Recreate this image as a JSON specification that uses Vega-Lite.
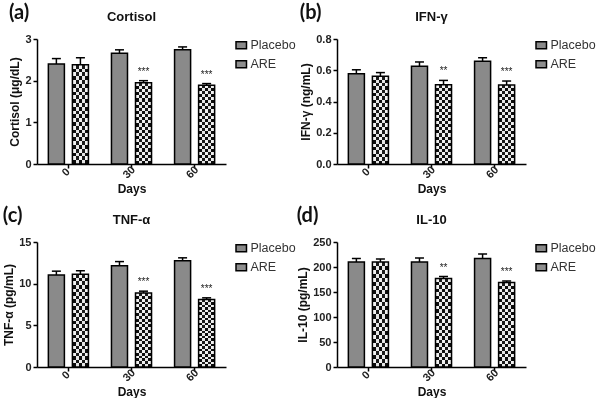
{
  "$schema": "https://vega.github.io/schema/vega-lite/v6.json",
  "padding": {"left": 2, "top": 2, "right": 0, "bottom": 0},
  "config": {
    "font": "Liberation Sans",
    "view": {"stroke": null},
    "axis": {"domainColor": "black", "domainWidth": 1.5, "tickColor": "black", "tickWidth": 1.5, "tickSize": 4, "labelFont": "Liberation Sans", "labelFontWeight": "bold", "labelFontSize": 11, "labelColor": "#222", "labelOverlap": false, "titleFont": "Liberation Sans", "titleFontWeight": "bold", "titleFontSize": 12, "titleColor": "#111", "grid": false},
    "axisX": {"labelPadding": 4, "titlePadding": 4, "labelAlign": "center", "labelBaseline": "middle", "labelOffset": -2},
    "axisY": {"titlePadding": 3},
    "legend": {"labelFont": "Liberation Sans", "labelFontSize": 12.5, "labelColor": "#333", "labelOffset": 3, "symbolStrokeColor": "black", "symbolStrokeWidth": 1.5, "symbolType": "M-1,-0.65H1V0.65H-1Z", "symbolSize": 110, "symbolOpacity": 1, "orient": "right", "offset": 9, "title": null, "rowPadding": 5},
    "title": {"font": "Liberation Sans", "fontWeight": "bold", "fontSize": 13, "color": "#111"}
  },
  "datasets": {
    "d": [
      {"panel": "a", "day": "0", "group": "Placebo", "value": 2.40, "upper": 2.53, "star": ""},
      {"panel": "a", "day": "0", "group": "ARE", "value": 2.38, "upper": 2.55, "star": ""},
      {"panel": "a", "day": "30", "group": "Placebo", "value": 2.66, "upper": 2.74, "star": ""},
      {"panel": "a", "day": "30", "group": "ARE", "value": 1.95, "upper": 2.00, "star": "***"},
      {"panel": "a", "day": "60", "group": "Placebo", "value": 2.74, "upper": 2.81, "star": ""},
      {"panel": "a", "day": "60", "group": "ARE", "value": 1.89, "upper": 1.93, "star": "***"},
      {"panel": "b", "day": "0", "group": "Placebo", "value": 0.578, "upper": 0.603, "star": ""},
      {"panel": "b", "day": "0", "group": "ARE", "value": 0.562, "upper": 0.585, "star": ""},
      {"panel": "b", "day": "30", "group": "Placebo", "value": 0.625, "upper": 0.653, "star": ""},
      {"panel": "b", "day": "30", "group": "ARE", "value": 0.508, "upper": 0.535, "star": "**"},
      {"panel": "b", "day": "60", "group": "Placebo", "value": 0.658, "upper": 0.680, "star": ""},
      {"panel": "b", "day": "60", "group": "ARE", "value": 0.505, "upper": 0.531, "star": "***"},
      {"panel": "c", "day": "0", "group": "Placebo", "value": 11.05, "upper": 11.5, "star": ""},
      {"panel": "c", "day": "0", "group": "ARE", "value": 11.13, "upper": 11.55, "star": ""},
      {"panel": "c", "day": "30", "group": "Placebo", "value": 12.14, "upper": 12.65, "star": ""},
      {"panel": "c", "day": "30", "group": "ARE", "value": 8.87, "upper": 9.1, "star": "***"},
      {"panel": "c", "day": "60", "group": "Placebo", "value": 12.75, "upper": 13.1, "star": ""},
      {"panel": "c", "day": "60", "group": "ARE", "value": 8.1, "upper": 8.3, "star": "***"},
      {"panel": "d", "day": "0", "group": "Placebo", "value": 210, "upper": 217, "star": ""},
      {"panel": "d", "day": "0", "group": "ARE", "value": 210, "upper": 216, "star": ""},
      {"panel": "d", "day": "30", "group": "Placebo", "value": 210, "upper": 218, "star": ""},
      {"panel": "d", "day": "30", "group": "ARE", "value": 177, "upper": 181, "star": "**"},
      {"panel": "d", "day": "60", "group": "Placebo", "value": 217, "upper": 226, "star": ""},
      {"panel": "d", "day": "60", "group": "ARE", "value": 169, "upper": 172, "star": "***"}
    ]
  },
  "columns": 2,
  "spacing": {"column": 0, "row": 11},
  "resolve": {"legend": {"fill": "independent"}},
  "concat": [
    {
      "title": {"text": "(a)", "anchor": "start", "frame": "bounds", "font": "Lato", "fontSize": 20, "fontWeight": "bold", "color": "#111", "offset": -12},
      "vconcat": [{
        "width": 189, "height": 125,
        "title": {"text": "Cortisol", "offset": 9},
        "data": {"name": "d"},
        "transform": [{"filter": "datum.panel === 'a'"}],
        "encoding": {
          "x": {"field": "day", "type": "nominal", "sort": ["0", "30", "60"], "scale": {"paddingInner": 0.365, "paddingOuter": 0.18}, "axis": {"title": "Days", "labelAngle": -45}},
          "xOffset": {"field": "group", "type": "nominal", "sort": ["Placebo", "ARE"], "scale": {"paddingInner": 0.333, "paddingOuter": 0}},
          "y": {"field": "value", "type": "quantitative", "scale": {"domain": [0, 3], "nice": false}, "axis": {"title": "Cortisol (μg/dL)", "values": [0, 1, 2, 3]}}
        },
        "layer": [
          {"mark": {"type": "bar"},
           "encoding": {
             "fill": {"field": "group", "type": "nominal", "sort": ["Placebo", "ARE"], "scale": {"domain": ["Placebo", "ARE"], "range": ["#8a8a8a", "#8e8e8e"]}}
           }},
          {"transform": [{"filter": "datum.group === 'ARE'"}],
           "mark": {"type": "bar", "fill": {"gradient": "linear", "x1": 0, "y1": 0, "x2": 1, "y2": 0, "stops": [{"offset": 0, "color": "#f2f2f2"}, {"offset": 0.2, "color": "#f2f2f2"}, {"offset": 0.2, "color": "#1a1a1a"}, {"offset": 0.4, "color": "#1a1a1a"}, {"offset": 0.4, "color": "#f2f2f2"}, {"offset": 0.6, "color": "#f2f2f2"}, {"offset": 0.6, "color": "#1a1a1a"}, {"offset": 0.8, "color": "#1a1a1a"}, {"offset": 0.8, "color": "#f2f2f2"}, {"offset": 1, "color": "#f2f2f2"}]}}},
          {"transform": [{"filter": "datum.group === 'ARE'"}],
           "mark": {"type": "bar", "blend": "difference", "fill": {"gradient": "linear", "x1": 0, "y1": 0, "x2": 0, "y2": 1, "stops": [{"offset": 0, "color": "rgba(255,255,255,0)"}, {"offset": 0.0385, "color": "rgba(255,255,255,0)"}, {"offset": 0.0385, "color": "#ffffff"}, {"offset": 0.0769, "color": "#ffffff"}, {"offset": 0.0769, "color": "rgba(255,255,255,0)"}, {"offset": 0.1154, "color": "rgba(255,255,255,0)"}, {"offset": 0.1154, "color": "#ffffff"}, {"offset": 0.1538, "color": "#ffffff"}, {"offset": 0.1538, "color": "rgba(255,255,255,0)"}, {"offset": 0.1923, "color": "rgba(255,255,255,0)"}, {"offset": 0.1923, "color": "#ffffff"}, {"offset": 0.2308, "color": "#ffffff"}, {"offset": 0.2308, "color": "rgba(255,255,255,0)"}, {"offset": 0.2692, "color": "rgba(255,255,255,0)"}, {"offset": 0.2692, "color": "#ffffff"}, {"offset": 0.3077, "color": "#ffffff"}, {"offset": 0.3077, "color": "rgba(255,255,255,0)"}, {"offset": 0.3462, "color": "rgba(255,255,255,0)"}, {"offset": 0.3462, "color": "#ffffff"}, {"offset": 0.3846, "color": "#ffffff"}, {"offset": 0.3846, "color": "rgba(255,255,255,0)"}, {"offset": 0.4231, "color": "rgba(255,255,255,0)"}, {"offset": 0.4231, "color": "#ffffff"}, {"offset": 0.4615, "color": "#ffffff"}, {"offset": 0.4615, "color": "rgba(255,255,255,0)"}, {"offset": 0.5, "color": "rgba(255,255,255,0)"}, {"offset": 0.5, "color": "#ffffff"}, {"offset": 0.5385, "color": "#ffffff"}, {"offset": 0.5385, "color": "rgba(255,255,255,0)"}, {"offset": 0.5769, "color": "rgba(255,255,255,0)"}, {"offset": 0.5769, "color": "#ffffff"}, {"offset": 0.6154, "color": "#ffffff"}, {"offset": 0.6154, "color": "rgba(255,255,255,0)"}, {"offset": 0.6538, "color": "rgba(255,255,255,0)"}, {"offset": 0.6538, "color": "#ffffff"}, {"offset": 0.6923, "color": "#ffffff"}, {"offset": 0.6923, "color": "rgba(255,255,255,0)"}, {"offset": 0.7308, "color": "rgba(255,255,255,0)"}, {"offset": 0.7308, "color": "#ffffff"}, {"offset": 0.7692, "color": "#ffffff"}, {"offset": 0.7692, "color": "rgba(255,255,255,0)"}, {"offset": 0.8077, "color": "rgba(255,255,255,0)"}, {"offset": 0.8077, "color": "#ffffff"}, {"offset": 0.8462, "color": "#ffffff"}, {"offset": 0.8462, "color": "rgba(255,255,255,0)"}, {"offset": 0.8846, "color": "rgba(255,255,255,0)"}, {"offset": 0.8846, "color": "#ffffff"}, {"offset": 0.9231, "color": "#ffffff"}, {"offset": 0.9231, "color": "rgba(255,255,255,0)"}, {"offset": 0.9615, "color": "rgba(255,255,255,0)"}, {"offset": 0.9615, "color": "#ffffff"}, {"offset": 1, "color": "#ffffff"}]}}},
          {"mark": {"type": "bar", "fill": "transparent", "stroke": "black", "strokeWidth": 1.5}},
          {"mark": {"type": "rule", "strokeWidth": 1.5, "color": "black"}, "encoding": {"y2": {"field": "upper"}}},
          {"mark": {"type": "tick", "thickness": 1.5, "size": 9, "color": "black", "opacity": 1}, "encoding": {"y": {"field": "upper", "type": "quantitative", "axis": {"title": "Cortisol (μg/dL)", "values": [0, 1, 2, 3]}}}},
          {"mark": {"type": "text", "baseline": "bottom", "dy": -4, "fontSize": 10, "color": "#222"}, "encoding": {"y": {"field": "upper", "type": "quantitative", "axis": {"title": "Cortisol (μg/dL)", "values": [0, 1, 2, 3]}}, "text": {"field": "star"}}}
        ]
      }]
    },
    {
      "title": {"text": "(b)", "anchor": "start", "frame": "bounds", "font": "Lato", "fontSize": 20, "fontWeight": "bold", "color": "#111", "offset": -12},
      "vconcat": [{
        "width": 189, "height": 125,
        "title": {"text": "IFN-γ", "offset": 9},
        "data": {"name": "d"},
        "transform": [{"filter": "datum.panel === 'b'"}],
        "encoding": {
          "x": {"field": "day", "type": "nominal", "sort": ["0", "30", "60"], "scale": {"paddingInner": 0.365, "paddingOuter": 0.18}, "axis": {"title": "Days", "labelAngle": -45}},
          "xOffset": {"field": "group", "type": "nominal", "sort": ["Placebo", "ARE"], "scale": {"paddingInner": 0.333, "paddingOuter": 0}},
          "y": {"field": "value", "type": "quantitative", "scale": {"domain": [0, 0.8], "nice": false}, "axis": {"title": "IFN-γ (ng/mL)", "values": [0, 0.2, 0.4, 0.6, 0.8], "format": ".1f"}}
        },
        "layer": [
          {"mark": {"type": "bar"},
           "encoding": {
             "fill": {"field": "group", "type": "nominal", "sort": ["Placebo", "ARE"]}
           }},
          {"transform": [{"filter": "datum.group === 'ARE'"}],
           "mark": {"type": "bar", "fill": {"gradient": "linear", "x1": 0, "y1": 0, "x2": 1, "y2": 0, "stops": [{"offset": 0, "color": "#f2f2f2"}, {"offset": 0.2, "color": "#f2f2f2"}, {"offset": 0.2, "color": "#1a1a1a"}, {"offset": 0.4, "color": "#1a1a1a"}, {"offset": 0.4, "color": "#f2f2f2"}, {"offset": 0.6, "color": "#f2f2f2"}, {"offset": 0.6, "color": "#1a1a1a"}, {"offset": 0.8, "color": "#1a1a1a"}, {"offset": 0.8, "color": "#f2f2f2"}, {"offset": 1, "color": "#f2f2f2"}]}}},
          {"transform": [{"filter": "datum.group === 'ARE'"}],
           "mark": {"type": "bar", "blend": "difference", "fill": {"gradient": "linear", "x1": 0, "y1": 0, "x2": 0, "y2": 1, "stops": [{"offset": 0, "color": "rgba(255,255,255,0)"}, {"offset": 0.0385, "color": "rgba(255,255,255,0)"}, {"offset": 0.0385, "color": "#ffffff"}, {"offset": 0.0769, "color": "#ffffff"}, {"offset": 0.0769, "color": "rgba(255,255,255,0)"}, {"offset": 0.1154, "color": "rgba(255,255,255,0)"}, {"offset": 0.1154, "color": "#ffffff"}, {"offset": 0.1538, "color": "#ffffff"}, {"offset": 0.1538, "color": "rgba(255,255,255,0)"}, {"offset": 0.1923, "color": "rgba(255,255,255,0)"}, {"offset": 0.1923, "color": "#ffffff"}, {"offset": 0.2308, "color": "#ffffff"}, {"offset": 0.2308, "color": "rgba(255,255,255,0)"}, {"offset": 0.2692, "color": "rgba(255,255,255,0)"}, {"offset": 0.2692, "color": "#ffffff"}, {"offset": 0.3077, "color": "#ffffff"}, {"offset": 0.3077, "color": "rgba(255,255,255,0)"}, {"offset": 0.3462, "color": "rgba(255,255,255,0)"}, {"offset": 0.3462, "color": "#ffffff"}, {"offset": 0.3846, "color": "#ffffff"}, {"offset": 0.3846, "color": "rgba(255,255,255,0)"}, {"offset": 0.4231, "color": "rgba(255,255,255,0)"}, {"offset": 0.4231, "color": "#ffffff"}, {"offset": 0.4615, "color": "#ffffff"}, {"offset": 0.4615, "color": "rgba(255,255,255,0)"}, {"offset": 0.5, "color": "rgba(255,255,255,0)"}, {"offset": 0.5, "color": "#ffffff"}, {"offset": 0.5385, "color": "#ffffff"}, {"offset": 0.5385, "color": "rgba(255,255,255,0)"}, {"offset": 0.5769, "color": "rgba(255,255,255,0)"}, {"offset": 0.5769, "color": "#ffffff"}, {"offset": 0.6154, "color": "#ffffff"}, {"offset": 0.6154, "color": "rgba(255,255,255,0)"}, {"offset": 0.6538, "color": "rgba(255,255,255,0)"}, {"offset": 0.6538, "color": "#ffffff"}, {"offset": 0.6923, "color": "#ffffff"}, {"offset": 0.6923, "color": "rgba(255,255,255,0)"}, {"offset": 0.7308, "color": "rgba(255,255,255,0)"}, {"offset": 0.7308, "color": "#ffffff"}, {"offset": 0.7692, "color": "#ffffff"}, {"offset": 0.7692, "color": "rgba(255,255,255,0)"}, {"offset": 0.8077, "color": "rgba(255,255,255,0)"}, {"offset": 0.8077, "color": "#ffffff"}, {"offset": 0.8462, "color": "#ffffff"}, {"offset": 0.8462, "color": "rgba(255,255,255,0)"}, {"offset": 0.8846, "color": "rgba(255,255,255,0)"}, {"offset": 0.8846, "color": "#ffffff"}, {"offset": 0.9231, "color": "#ffffff"}, {"offset": 0.9231, "color": "rgba(255,255,255,0)"}, {"offset": 0.9615, "color": "rgba(255,255,255,0)"}, {"offset": 0.9615, "color": "#ffffff"}, {"offset": 1, "color": "#ffffff"}]}}},
          {"mark": {"type": "bar", "fill": "transparent", "stroke": "black", "strokeWidth": 1.5}},
          {"mark": {"type": "rule", "strokeWidth": 1.5, "color": "black"}, "encoding": {"y2": {"field": "upper"}}},
          {"mark": {"type": "tick", "thickness": 1.5, "size": 9, "color": "black", "opacity": 1}, "encoding": {"y": {"field": "upper", "type": "quantitative", "axis": {"title": "IFN-γ (ng/mL)", "values": [0, 0.2, 0.4, 0.6, 0.8], "format": ".1f"}}}},
          {"mark": {"type": "text", "baseline": "bottom", "dy": -4, "fontSize": 10, "color": "#222"}, "encoding": {"y": {"field": "upper", "type": "quantitative", "axis": {"title": "IFN-γ (ng/mL)", "values": [0, 0.2, 0.4, 0.6, 0.8], "format": ".1f"}}, "text": {"field": "star"}}}
        ]
      }]
    },
    {
      "title": {"text": "(c)", "anchor": "start", "frame": "bounds", "font": "Lato", "fontSize": 20, "fontWeight": "bold", "color": "#111", "offset": -12},
      "vconcat": [{
        "width": 189, "height": 125,
        "title": {"text": "TNF-α", "offset": 9},
        "data": {"name": "d"},
        "transform": [{"filter": "datum.panel === 'c'"}],
        "encoding": {
          "x": {"field": "day", "type": "nominal", "sort": ["0", "30", "60"], "scale": {"paddingInner": 0.365, "paddingOuter": 0.18}, "axis": {"title": "Days", "labelAngle": -45}},
          "xOffset": {"field": "group", "type": "nominal", "sort": ["Placebo", "ARE"], "scale": {"paddingInner": 0.333, "paddingOuter": 0}},
          "y": {"field": "value", "type": "quantitative", "scale": {"domain": [0, 15], "nice": false}, "axis": {"title": "TNF-α (pg/mL)", "values": [0, 5, 10, 15]}}
        },
        "layer": [
          {"mark": {"type": "bar"},
           "encoding": {
             "fill": {"field": "group", "type": "nominal", "sort": ["Placebo", "ARE"]}
           }},
          {"transform": [{"filter": "datum.group === 'ARE'"}],
           "mark": {"type": "bar", "fill": {"gradient": "linear", "x1": 0, "y1": 0, "x2": 1, "y2": 0, "stops": [{"offset": 0, "color": "#f2f2f2"}, {"offset": 0.2, "color": "#f2f2f2"}, {"offset": 0.2, "color": "#1a1a1a"}, {"offset": 0.4, "color": "#1a1a1a"}, {"offset": 0.4, "color": "#f2f2f2"}, {"offset": 0.6, "color": "#f2f2f2"}, {"offset": 0.6, "color": "#1a1a1a"}, {"offset": 0.8, "color": "#1a1a1a"}, {"offset": 0.8, "color": "#f2f2f2"}, {"offset": 1, "color": "#f2f2f2"}]}}},
          {"transform": [{"filter": "datum.group === 'ARE'"}],
           "mark": {"type": "bar", "blend": "difference", "fill": {"gradient": "linear", "x1": 0, "y1": 0, "x2": 0, "y2": 1, "stops": [{"offset": 0, "color": "rgba(255,255,255,0)"}, {"offset": 0.0385, "color": "rgba(255,255,255,0)"}, {"offset": 0.0385, "color": "#ffffff"}, {"offset": 0.0769, "color": "#ffffff"}, {"offset": 0.0769, "color": "rgba(255,255,255,0)"}, {"offset": 0.1154, "color": "rgba(255,255,255,0)"}, {"offset": 0.1154, "color": "#ffffff"}, {"offset": 0.1538, "color": "#ffffff"}, {"offset": 0.1538, "color": "rgba(255,255,255,0)"}, {"offset": 0.1923, "color": "rgba(255,255,255,0)"}, {"offset": 0.1923, "color": "#ffffff"}, {"offset": 0.2308, "color": "#ffffff"}, {"offset": 0.2308, "color": "rgba(255,255,255,0)"}, {"offset": 0.2692, "color": "rgba(255,255,255,0)"}, {"offset": 0.2692, "color": "#ffffff"}, {"offset": 0.3077, "color": "#ffffff"}, {"offset": 0.3077, "color": "rgba(255,255,255,0)"}, {"offset": 0.3462, "color": "rgba(255,255,255,0)"}, {"offset": 0.3462, "color": "#ffffff"}, {"offset": 0.3846, "color": "#ffffff"}, {"offset": 0.3846, "color": "rgba(255,255,255,0)"}, {"offset": 0.4231, "color": "rgba(255,255,255,0)"}, {"offset": 0.4231, "color": "#ffffff"}, {"offset": 0.4615, "color": "#ffffff"}, {"offset": 0.4615, "color": "rgba(255,255,255,0)"}, {"offset": 0.5, "color": "rgba(255,255,255,0)"}, {"offset": 0.5, "color": "#ffffff"}, {"offset": 0.5385, "color": "#ffffff"}, {"offset": 0.5385, "color": "rgba(255,255,255,0)"}, {"offset": 0.5769, "color": "rgba(255,255,255,0)"}, {"offset": 0.5769, "color": "#ffffff"}, {"offset": 0.6154, "color": "#ffffff"}, {"offset": 0.6154, "color": "rgba(255,255,255,0)"}, {"offset": 0.6538, "color": "rgba(255,255,255,0)"}, {"offset": 0.6538, "color": "#ffffff"}, {"offset": 0.6923, "color": "#ffffff"}, {"offset": 0.6923, "color": "rgba(255,255,255,0)"}, {"offset": 0.7308, "color": "rgba(255,255,255,0)"}, {"offset": 0.7308, "color": "#ffffff"}, {"offset": 0.7692, "color": "#ffffff"}, {"offset": 0.7692, "color": "rgba(255,255,255,0)"}, {"offset": 0.8077, "color": "rgba(255,255,255,0)"}, {"offset": 0.8077, "color": "#ffffff"}, {"offset": 0.8462, "color": "#ffffff"}, {"offset": 0.8462, "color": "rgba(255,255,255,0)"}, {"offset": 0.8846, "color": "rgba(255,255,255,0)"}, {"offset": 0.8846, "color": "#ffffff"}, {"offset": 0.9231, "color": "#ffffff"}, {"offset": 0.9231, "color": "rgba(255,255,255,0)"}, {"offset": 0.9615, "color": "rgba(255,255,255,0)"}, {"offset": 0.9615, "color": "#ffffff"}, {"offset": 1, "color": "#ffffff"}]}}},
          {"mark": {"type": "bar", "fill": "transparent", "stroke": "black", "strokeWidth": 1.5}},
          {"mark": {"type": "rule", "strokeWidth": 1.5, "color": "black"}, "encoding": {"y2": {"field": "upper"}}},
          {"mark": {"type": "tick", "thickness": 1.5, "size": 9, "color": "black", "opacity": 1}, "encoding": {"y": {"field": "upper", "type": "quantitative", "axis": {"title": "TNF-α (pg/mL)", "values": [0, 5, 10, 15]}}}},
          {"mark": {"type": "text", "baseline": "bottom", "dy": -4, "fontSize": 10, "color": "#222"}, "encoding": {"y": {"field": "upper", "type": "quantitative", "axis": {"title": "TNF-α (pg/mL)", "values": [0, 5, 10, 15]}}, "text": {"field": "star"}}}
        ]
      }]
    },
    {
      "title": {"text": "(d)", "anchor": "start", "frame": "bounds", "font": "Lato", "fontSize": 20, "fontWeight": "bold", "color": "#111", "offset": -12},
      "vconcat": [{
        "width": 189, "height": 125,
        "title": {"text": "IL-10", "offset": 9},
        "data": {"name": "d"},
        "transform": [{"filter": "datum.panel === 'd'"}],
        "encoding": {
          "x": {"field": "day", "type": "nominal", "sort": ["0", "30", "60"], "scale": {"paddingInner": 0.365, "paddingOuter": 0.18}, "axis": {"title": "Days", "labelAngle": -45}},
          "xOffset": {"field": "group", "type": "nominal", "sort": ["Placebo", "ARE"], "scale": {"paddingInner": 0.333, "paddingOuter": 0}},
          "y": {"field": "value", "type": "quantitative", "scale": {"domain": [0, 250], "nice": false}, "axis": {"title": "IL-10 (pg/mL)", "values": [0, 50, 100, 150, 200, 250]}}
        },
        "layer": [
          {"mark": {"type": "bar"},
           "encoding": {
             "fill": {"field": "group", "type": "nominal", "sort": ["Placebo", "ARE"]}
           }},
          {"transform": [{"filter": "datum.group === 'ARE'"}],
           "mark": {"type": "bar", "fill": {"gradient": "linear", "x1": 0, "y1": 0, "x2": 1, "y2": 0, "stops": [{"offset": 0, "color": "#f2f2f2"}, {"offset": 0.2, "color": "#f2f2f2"}, {"offset": 0.2, "color": "#1a1a1a"}, {"offset": 0.4, "color": "#1a1a1a"}, {"offset": 0.4, "color": "#f2f2f2"}, {"offset": 0.6, "color": "#f2f2f2"}, {"offset": 0.6, "color": "#1a1a1a"}, {"offset": 0.8, "color": "#1a1a1a"}, {"offset": 0.8, "color": "#f2f2f2"}, {"offset": 1, "color": "#f2f2f2"}]}}},
          {"transform": [{"filter": "datum.group === 'ARE'"}],
           "mark": {"type": "bar", "blend": "difference", "fill": {"gradient": "linear", "x1": 0, "y1": 0, "x2": 0, "y2": 1, "stops": [{"offset": 0, "color": "rgba(255,255,255,0)"}, {"offset": 0.0385, "color": "rgba(255,255,255,0)"}, {"offset": 0.0385, "color": "#ffffff"}, {"offset": 0.0769, "color": "#ffffff"}, {"offset": 0.0769, "color": "rgba(255,255,255,0)"}, {"offset": 0.1154, "color": "rgba(255,255,255,0)"}, {"offset": 0.1154, "color": "#ffffff"}, {"offset": 0.1538, "color": "#ffffff"}, {"offset": 0.1538, "color": "rgba(255,255,255,0)"}, {"offset": 0.1923, "color": "rgba(255,255,255,0)"}, {"offset": 0.1923, "color": "#ffffff"}, {"offset": 0.2308, "color": "#ffffff"}, {"offset": 0.2308, "color": "rgba(255,255,255,0)"}, {"offset": 0.2692, "color": "rgba(255,255,255,0)"}, {"offset": 0.2692, "color": "#ffffff"}, {"offset": 0.3077, "color": "#ffffff"}, {"offset": 0.3077, "color": "rgba(255,255,255,0)"}, {"offset": 0.3462, "color": "rgba(255,255,255,0)"}, {"offset": 0.3462, "color": "#ffffff"}, {"offset": 0.3846, "color": "#ffffff"}, {"offset": 0.3846, "color": "rgba(255,255,255,0)"}, {"offset": 0.4231, "color": "rgba(255,255,255,0)"}, {"offset": 0.4231, "color": "#ffffff"}, {"offset": 0.4615, "color": "#ffffff"}, {"offset": 0.4615, "color": "rgba(255,255,255,0)"}, {"offset": 0.5, "color": "rgba(255,255,255,0)"}, {"offset": 0.5, "color": "#ffffff"}, {"offset": 0.5385, "color": "#ffffff"}, {"offset": 0.5385, "color": "rgba(255,255,255,0)"}, {"offset": 0.5769, "color": "rgba(255,255,255,0)"}, {"offset": 0.5769, "color": "#ffffff"}, {"offset": 0.6154, "color": "#ffffff"}, {"offset": 0.6154, "color": "rgba(255,255,255,0)"}, {"offset": 0.6538, "color": "rgba(255,255,255,0)"}, {"offset": 0.6538, "color": "#ffffff"}, {"offset": 0.6923, "color": "#ffffff"}, {"offset": 0.6923, "color": "rgba(255,255,255,0)"}, {"offset": 0.7308, "color": "rgba(255,255,255,0)"}, {"offset": 0.7308, "color": "#ffffff"}, {"offset": 0.7692, "color": "#ffffff"}, {"offset": 0.7692, "color": "rgba(255,255,255,0)"}, {"offset": 0.8077, "color": "rgba(255,255,255,0)"}, {"offset": 0.8077, "color": "#ffffff"}, {"offset": 0.8462, "color": "#ffffff"}, {"offset": 0.8462, "color": "rgba(255,255,255,0)"}, {"offset": 0.8846, "color": "rgba(255,255,255,0)"}, {"offset": 0.8846, "color": "#ffffff"}, {"offset": 0.9231, "color": "#ffffff"}, {"offset": 0.9231, "color": "rgba(255,255,255,0)"}, {"offset": 0.9615, "color": "rgba(255,255,255,0)"}, {"offset": 0.9615, "color": "#ffffff"}, {"offset": 1, "color": "#ffffff"}]}}},
          {"mark": {"type": "bar", "fill": "transparent", "stroke": "black", "strokeWidth": 1.5}},
          {"mark": {"type": "rule", "strokeWidth": 1.5, "color": "black"}, "encoding": {"y2": {"field": "upper"}}},
          {"mark": {"type": "tick", "thickness": 1.5, "size": 9, "color": "black", "opacity": 1}, "encoding": {"y": {"field": "upper", "type": "quantitative", "axis": {"title": "IL-10 (pg/mL)", "values": [0, 50, 100, 150, 200, 250]}}}},
          {"mark": {"type": "text", "baseline": "bottom", "dy": -4, "fontSize": 10, "color": "#222"}, "encoding": {"y": {"field": "upper", "type": "quantitative", "axis": {"title": "IL-10 (pg/mL)", "values": [0, 50, 100, 150, 200, 250]}}, "text": {"field": "star"}}}
        ]
      }]
    }
  ]
}
